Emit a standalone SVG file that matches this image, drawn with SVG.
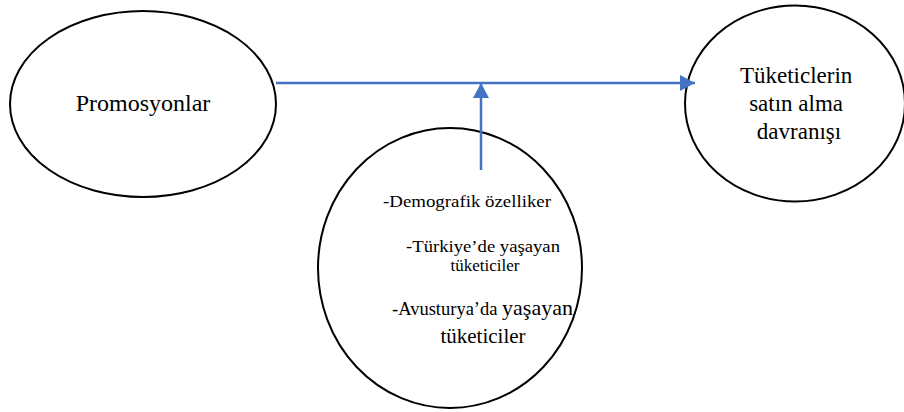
<svg xmlns="http://www.w3.org/2000/svg" width="904" height="412" viewBox="0 0 904 412">
  <style>
    .node { fill: #ffffff; stroke: #000000; stroke-width: 2; }
    text { font-family: 'Liberation Serif', 'DejaVu Serif', 'Times New Roman', serif; fill: #000000; }
    .conn { stroke: #4472C4; stroke-width: 2.5; fill: none; }
  </style>
  <defs>
    <marker id="arrow" markerUnits="userSpaceOnUse" markerWidth="16" markerHeight="16" viewBox="0 0 16 16" refX="15" refY="8" orient="auto">
      <path d="M0,0 L15,8 L0,16 Z" fill="#4472C4"/>
    </marker>
  </defs>
  <rect width="904" height="412" fill="#ffffff"/>

  <g id="promosyonlar">
    <ellipse class="node" cx="143" cy="104" rx="133" ry="93"/>
    <text x="143" y="111" font-size="24" text-anchor="middle">Promosyonlar</text>
  </g>

  <g id="tuketici-davranisi">
    <ellipse class="node" cx="795" cy="103.5" rx="110" ry="98"/>
    <text font-size="23" text-anchor="middle">
      <tspan x="799" y="83">Tüketiclerin</tspan>
      <tspan x="799" y="111">satın alma</tspan>
      <tspan x="799" y="139">davranışı</tspan>
    </text>
  </g>

  <g id="demografik">
    <ellipse class="node" cx="450" cy="268" rx="132" ry="140"/>
    <text x="383" y="207" font-size="17" textLength="168" lengthAdjust="spacingAndGlyphs">-Demografik özelliker</text>
    <text x="406" y="252" font-size="17" textLength="154" lengthAdjust="spacingAndGlyphs">-Türkiye’de yaşayan</text>
    <text x="485" y="271" font-size="17" text-anchor="middle">tüketiciler</text>
    <text x="392" y="315" font-size="18.5">-Avusturya’da <tspan font-size="22">yaşayan</tspan></text>
    <text x="483" y="343" font-size="21" text-anchor="middle">tüketiciler</text>
  </g>

  <g id="connectors">
    <line class="conn" x1="276" y1="83" x2="695" y2="83" marker-end="url(#arrow)"/>
    <line class="conn" x1="481" y1="170" x2="481" y2="83" marker-end="url(#arrow)"/>
  </g>
</svg>
